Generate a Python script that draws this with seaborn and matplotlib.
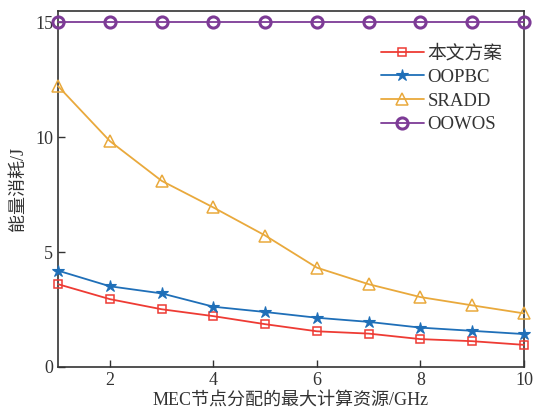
import matplotlib

matplotlib.use("Agg")
import matplotlib.pyplot as plt
import pandas as pd
import seaborn as sns

# Данные
resources = [1, 2, 3, 4, 5, 6, 7, 8, 9, 10]
proposed = [3.60, 2.95, 2.51, 2.21, 1.86, 1.55, 1.45, 1.21, 1.12, 0.96]
oopbc = [4.19, 3.51, 3.20, 2.62, 2.39, 2.14, 1.96, 1.71, 1.57, 1.43]
sradd = [12.22, 9.83, 8.10, 6.94, 5.72, 4.32, 3.60, 3.04, 2.68, 2.33]
oowos = [15, 15, 15, 15, 15, 15, 15, 15, 15, 15]
series_names = ["本文方案", "OOPBC", "SRADD", "OOWOS"]

df = pd.DataFrame(
    {
        "x": resources,
        "本文方案": proposed,
        "OOPBC": oopbc,
        "SRADD": sradd,
        "OOWOS": oowos,
    }
)

sns.set_theme(style="white")
plt.rcParams["font.family"] = ["Liberation Serif", "Noto Sans CJK SC"]

styles = {
    "本文方案": dict(color="#ee3b34", marker="s", ms=6, mfc="none", mew=1.1),
    "OOPBC": dict(color="#1f6fb8", marker="*", ms=9, mfc="#1f6fb8", mew=0.8),
    "SRADD": dict(color="#e9a93c", marker="^", ms=9, mfc="none", mew=1.1),
    "OOWOS": dict(color="#7d3b96", marker="o", ms=8, mfc="none", mew=2.2),
}

fig = plt.figure(figsize=(5.33, 4.16), dpi=100)
ax = fig.add_axes([0.109, 0.118, 0.874, 0.856])

for name in series_names:
    st = styles[name]
    sns.lineplot(
        data=df,
        x="x",
        y=name,
        ax=ax,
        label=name,
        color=st["color"],
        marker=st["marker"],
        markersize=st["ms"],
        markerfacecolor=st["mfc"],
        markeredgecolor=st["color"],
        markeredgewidth=st["mew"],
        linewidth=1.3,
        clip_on=False,
        zorder=3,
    )

ax.set_xlim(1, 10)
ax.set_ylim(0, 15.5)
ax.set_xticks([2, 4, 6, 8, 10])
ax.set_yticks([0, 5, 10, 15])
ax.tick_params(
    axis="both", direction="in", length=5, width=1, labelsize=13,
    colors="#333333", bottom=True, left=True, top=False, right=False,
)
for sp in ax.spines.values():
    sp.set_color("#333333")
    sp.set_linewidth(1.2)

ax.set_xlabel("MEC节点分配的最大计算资源/GHz", fontsize=13, color="#333333", labelpad=2)
ax.set_ylabel("能量消耗/J", fontsize=13, color="#333333", labelpad=6)

leg = ax.legend(
    loc="upper right",
    bbox_to_anchor=(0.99, 0.953),
    frameon=False,
    fontsize=13.5,
    handlelength=2.3,
    handletextpad=0.2,
    labelspacing=0.35,
)
for t in leg.get_texts():
    t.set_color("#333333")

fig.savefig("out.png", dpi=100)
plt.close(fig)
